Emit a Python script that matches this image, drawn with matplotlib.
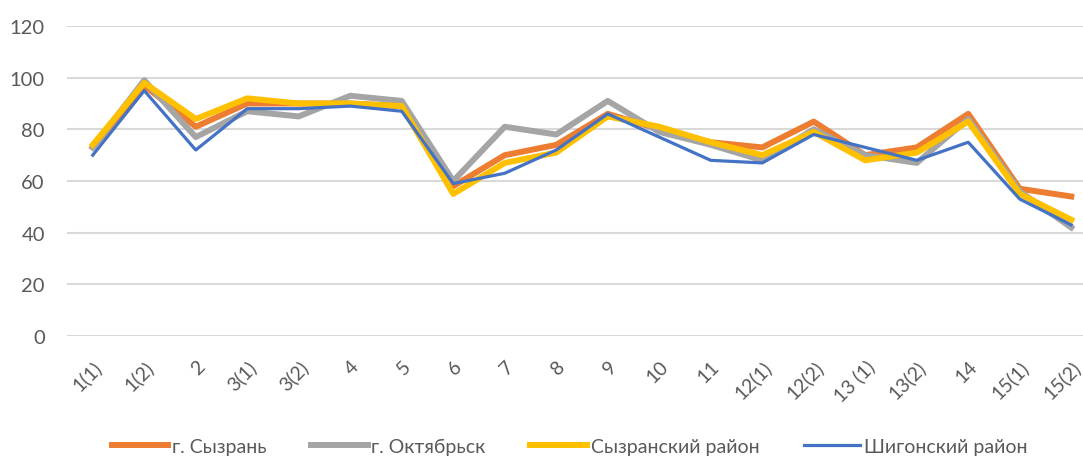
import matplotlib
matplotlib.use("Agg")
import matplotlib.pyplot as plt

categories = ["1(1)", "1(2)", "2", "3(1)", "3(2)", "4", "5", "6", "7", "8", "9", "10",
              "11", "12(1)", "12(2)", "13 (1)", "13(2)", "14", "15(1)", "15(2)"]
syzran = [73, 97, 81, 90, 90, 90, 89, 58, 70, 74, 86, 80, 75, 73, 83, 70, 73, 86, 57, 54]
oktyabrsk = [73, 99, 77, 87, 85, 93, 91, 60, 81, 78, 91, 79, 74, 68, 80, 70, 67, 84, 56, 42]
syzran_rayon = [74, 98, 84, 92, 90, 90, 89, 55, 67, 71, 85, 81, 75, 70, 79, 68, 71, 83, 55, 45]
shigony = [70, 95, 72, 88, 88, 89, 87, 59, 63, 72, 86, 77, 68, 67, 78, 73, 68, 75, 53, 43]
series_names = ["г. Сызрань", "г. Октябрьск", "Сызранский район", "Шигонский район"]
yticks = [0, 20, 40, 60, 80, 100, 120]

plt.rcParams['font.family'] = ['Lato', 'DejaVu Sans']

fig = plt.figure(figsize=(10.83, 4.60), dpi=100)
ax = fig.add_axes([67/1083, 1-337/460, 1-67/1083, (337-27)/460])

x = list(range(len(categories)))
ax.plot(x, syzran, color="#ED7D31", lw=4.3, label=series_names[0], solid_joinstyle="round")
ax.plot(x, oktyabrsk, color="#A5A5A5", lw=4.3, label=series_names[1], solid_joinstyle="round")
ax.plot(x, syzran_rayon, color="#FFC000", lw=4.3, label=series_names[2], solid_joinstyle="round")
ax.plot(x, shigony, color="#4472C4", lw=2.3, label=series_names[3], solid_joinstyle="round")

ax.set_ylim(0, 120)
ax.set_xlim(-0.5, -0.5 + (1083-67)/51.5)
ax.set_yticks(yticks)
ax.set_yticklabels([str(v) for v in yticks], fontsize=14.5, color="#595959")
ax.set_xticks(x)
ax.set_xticklabels(categories, rotation=45, ha="right", va="top",
                   rotation_mode="anchor", fontsize=14, color="#595959")
ax.tick_params(axis="both", length=0)
ax.tick_params(axis="x", pad=15)
ax.tick_params(axis="y", pad=16)
ax.grid(axis="y", color="#D9D9D9", lw=1.5)
ax.set_axisbelow(True)
for s in ax.spines.values():
    s.set_visible(False)

fig.legend(loc="center", bbox_to_anchor=(0.526, 1-447/460), ncol=4, frameon=False,
           fontsize=14, handlelength=2.9, columnspacing=2.3, handletextpad=0.2,
           labelcolor="#595959")

fig.savefig("out.png", dpi=100)
